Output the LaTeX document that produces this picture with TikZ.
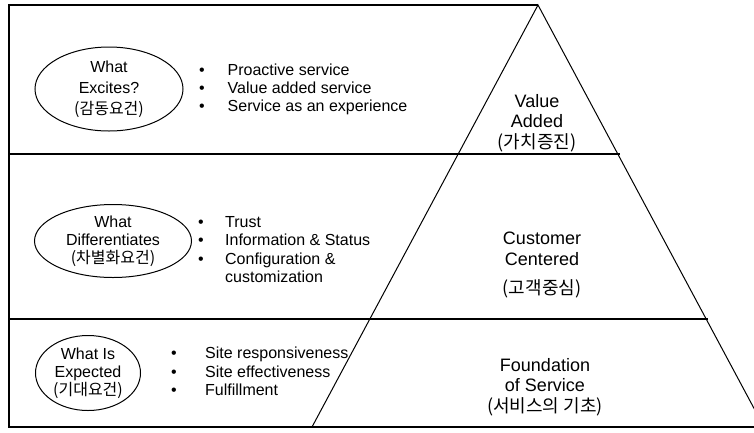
\documentclass[tikz,border=0pt]{standalone}
\usepackage{fontspec}
\setmainfont{Liberation Sans}
\newfontfamily\kr{Noto Sans CJK KR}
\usetikzlibrary{shapes.geometric}
\begin{document}
\begin{tikzpicture}[x=1pt,y=-1pt,
  frame/.style={line width=1.3pt},
  slant/.style={line width=1pt},
  oval/.style={draw,ellipse,line width=1pt,inner sep=0pt,align=center},
  list/.style={anchor=west,inner sep=0pt,align=left,font=\fontsize{16}{18.3}\selectfont},
  level/.style={inner sep=0pt,align=center,font=\fontsize{18}{20.5}\selectfont}]
\useasboundingbox (0,0) rectangle (754,432);
\clip (0,0) rectangle (754,432);
% frame and pyramid
\coordinate (TL) at (9,5);
\coordinate (apex) at (538,5);
\coordinate (BL) at (9,427);
\coordinate (BR) at (760,427);
\coordinate (PL) at (312,427);
\coordinate (PR) at (764,427);
\coordinate (d1l) at (9,154);
\coordinate (d1r) at (620,154);
\coordinate (d2l) at (9,319);
\coordinate (d2r) at (708,319);
\draw[frame] (apex) -- (TL) -- (BL) -- (BR);
\draw[frame] (d1l) -- (d1r);
\draw[frame] (d2l) -- (d2r);
\draw[slant] (PL) -- (apex) -- (PR);
% ovals
\node[oval,minimum width=148pt,minimum height=84pt,font=\fontsize{16}{20}\selectfont] (e1) at (109,89) {What\\[1pt]Excites?\\[1pt]{\kr (감동요건)}};
\node[oval,minimum width=157pt,minimum height=73pt,font=\fontsize{16}{18}\selectfont] (e2) at (113,241) {What\\Differentiates\\{\kr (차별화요건)}};
\node[oval,minimum width=105pt,minimum height=75pt,font=\fontsize{16}{18}\selectfont] (e3) at (88,373) {What Is\\Expected\\{\kr (기대요건)}};
% lists
\node[list] (l1) at (199,89.5) {\makebox[28.5pt][l]{•}Proactive service\\\makebox[28.5pt][l]{•}Value added service\\\makebox[28.5pt][l]{•}Service as an experience};
\node[list] (l2) at (198,249.5) {\makebox[27pt][l]{•}Trust\\\makebox[27pt][l]{•}Information \& Status\\\makebox[27pt][l]{•}Configuration \&\\\hspace*{27pt}customization};
\node[list] (l3) at (171,371.5) {\makebox[34pt][l]{•}Site responsiveness\\\makebox[34pt][l]{•}Site effectiveness\\\makebox[34pt][l]{•}Fulfillment};
% level labels
\node[level] (v) at (537,123) {Value\\Added\\{\kr (가치증진)}};
\node[level] (c) at (542,265) {Customer\\Centered\\[9pt]{\kr (고객중심)}};
\node[level] (f) at (545,387) {Foundation\\of Service\\{\kr (서비스의 기초)}};
\end{tikzpicture}
\end{document}
